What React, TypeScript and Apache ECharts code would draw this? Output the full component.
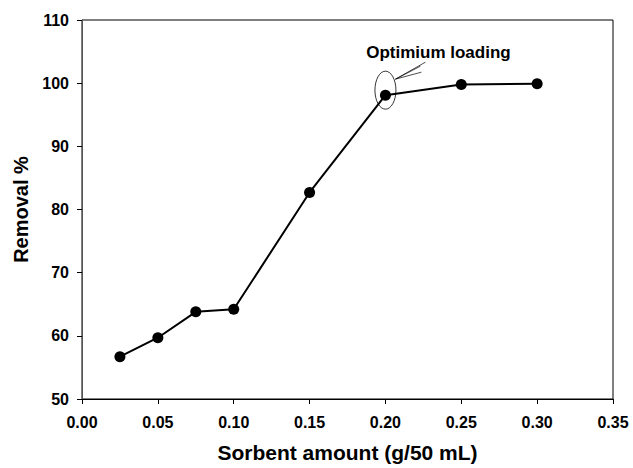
import React, { useEffect, useRef } from "react";
import * as echarts from "echarts";

const sorbentAmounts = [0.025, 0.05, 0.075, 0.1, 0.15, 0.2, 0.25, 0.3];
const removalPercent = [56.7, 59.7, 63.8, 64.2, 82.7, 98.1, 99.8, 99.9];
const annotationText = "Optimium loading";
const annotatedIndex = 5;

export default function App() {
  const ref = useRef<HTMLDivElement>(null);
  useEffect(() => {
    if (!ref.current) return;
    const chart = echarts.init(ref.current, null, { renderer: "svg" });
    const font = "'Liberation Sans', Arial, sans-serif";
    const option: any = {
      animation: false,
      backgroundColor: "#fff",
      grid: {
        left: 82,
        right: 20,
        top: 20,
        bottom: 65,
        show: true,
        borderColor: "#000",
        borderWidth: 1,
      },
      xAxis: {
        type: "value",
        min: 0,
        max: 0.35,
        interval: 0.05,
        name: "Sorbent amount (g/50 mL)",
        nameLocation: "middle",
        nameGap: 43,
        nameTextStyle: { fontFamily: font, fontWeight: "bold", fontSize: 21, color: "#000" },
        axisLine: { lineStyle: { color: "#000", width: 1 } },
        axisTick: { show: true, inside: false, length: 5, lineStyle: { color: "#000" } },
        axisLabel: {
          formatter: (v: number) => v.toFixed(2),
          fontFamily: font,
          fontWeight: "bold",
          fontSize: 16,
          color: "#000",
          margin: 15,
        },
        splitLine: { show: false },
      },
      yAxis: {
        type: "value",
        min: 50,
        max: 110,
        interval: 10,
        name: "Removal %",
        nameLocation: "middle",
        nameGap: 51,
        nameTextStyle: { fontFamily: font, fontWeight: "bold", fontSize: 20, color: "#000" },
        axisLine: { show: true, lineStyle: { color: "#555", width: 1 } },
        axisTick: { show: true, inside: false, length: 5, lineStyle: { color: "#000" } },
        axisLabel: {
          fontFamily: font,
          fontWeight: "bold",
          fontSize: 16,
          color: "#000",
          margin: 13,
        },
        splitLine: { show: false },
      },
      series: [
        {
          type: "line",
          data: sorbentAmounts.map((x, i) => [x, removalPercent[i]]),
          symbol: "circle",
          symbolSize: 11,
          itemStyle: { color: "#000" },
          lineStyle: { color: "#000", width: 2 },
        },
      ],
    };
    chart.setOption(option);
    const p = chart.convertToPixel({ gridIndex: 0 }, [
      sorbentAmounts[annotatedIndex],
      removalPercent[annotatedIndex],
    ]) as number[];
    const cx = p[0];
    const cy = p[1] - 5;
    const tipX = cx + 10;
    const tipY = cy - 11;
    chart.setOption({
      graphic: [
        {
          type: "ellipse",
          shape: { cx, cy, rx: 10.5, ry: 19 },
          style: { fill: "none", stroke: "#000", lineWidth: 0.8 },
          z: 100,
        },
        {
          type: "line",
          shape: { x1: tipX, y1: tipY, x2: tipX + 30, y2: tipY - 17 },
          style: { stroke: "#000", lineWidth: 0.7 },
          z: 100,
        },
        {
          type: "line",
          shape: { x1: tipX, y1: tipY, x2: tipX + 25, y2: tipY - 13 },
          style: { stroke: "#000", lineWidth: 0.7 },
          z: 100,
        },
        {
          type: "line",
          shape: { x1: tipX, y1: tipY, x2: tipX + 26, y2: tipY - 7 },
          style: { stroke: "#000", lineWidth: 0.7 },
          z: 100,
        },
        {
          type: "text",
          x: cx + 53,
          y: tipY - 27,
          style: {
            text: annotationText,
            fontFamily: font,
            fontWeight: "bold",
            fontSize: 17,
            fill: "#000",
            align: "center",
            verticalAlign: "middle",
          },
          z: 100,
        },
      ],
    });
    return () => chart.dispose();
  }, []);
  return (
    <div
      ref={ref}
      style={{ position: "fixed", left: 0, top: 0, width: 633, height: 468 }}
    />
  );
}
